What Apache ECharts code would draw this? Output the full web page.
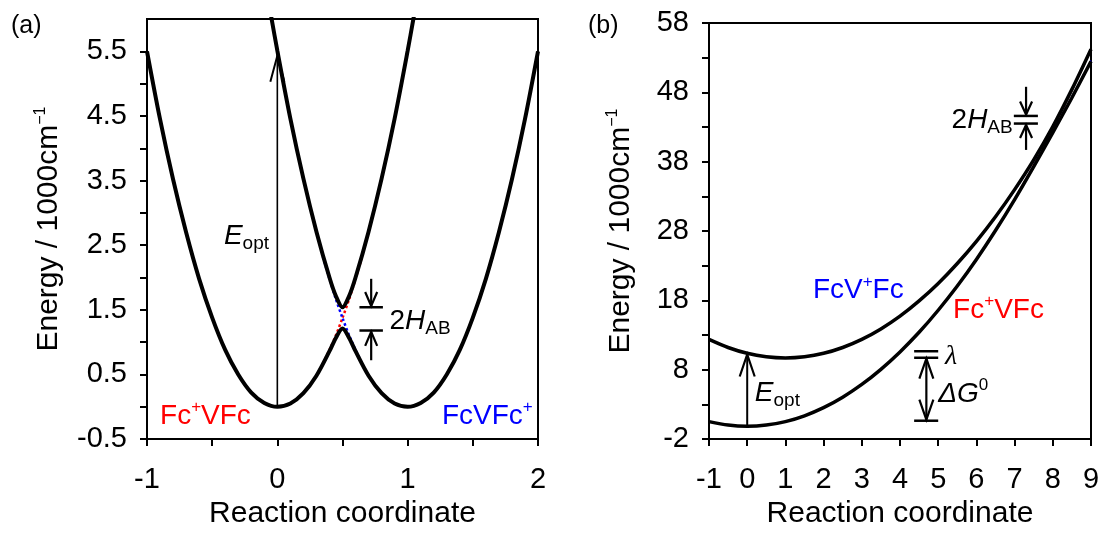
<!DOCTYPE html>
<html>
<head>
<meta charset="utf-8">
<script src="https://cdn.jsdelivr.net/npm/echarts@6/dist/echarts.min.js"></script>
<style>
  html, body { margin: 0; padding: 0; background: #fff; }
  #chart { width: 1107px; height: 534px; }
</style>
</head>
<body>
<div id="chart"></div>
<script>
// ---- panel (a): symmetric exchange, energies in 1000 cm-1 ----
const xLowA = [-1, -0.9, -0.8, -0.7, -0.6, -0.5, -0.4, -0.3, -0.2, -0.1, 0, 0.1, 0.2, 0.3, 0.4, 0.45, 0.5,
               0.55, 0.6, 0.7, 0.8, 0.9, 1, 1.1, 1.2, 1.3, 1.4, 1.5, 1.6, 1.7, 1.8, 1.9, 2];
const lowA = [5.5, 4.45, 3.52, 2.7, 1.98, 1.38, 0.88, 0.5, 0.22, 0.06, 0, 0.05, 0.21, 0.48, 0.86, 1.07, 1.21,
              1.07, 0.86, 0.48, 0.21, 0.05, 0, 0.06, 0.22, 0.5, 0.88, 1.38, 1.98, 2.7, 3.52, 4.45, 5.5];
const xUpA = [-0.05, 0, 0.1, 0.2, 0.3, 0.4, 0.45, 0.5, 0.55, 0.6, 0.7, 0.8, 0.9, 1, 1.05];
const upA = [6.07, 5.51, 4.46, 3.53, 2.71, 2.0, 1.71, 1.54, 1.71, 2.0, 2.71, 3.53, 4.46, 5.51, 6.07];
// dotted diabatic curves, seen only around the crossing
const xCrossA = [0.35, 0.4, 0.45, 0.5, 0.55, 0.6, 0.65];
const redA = [0.67, 0.88, 1.11, 1.375, 1.66, 1.98, 2.32];
const blueA = [2.32, 1.98, 1.66, 1.375, 1.11, 0.88, 0.67];
const yTicksA = [-0.5, 0, 0.5, 1, 1.5, 2, 2.5, 3, 3.5, 4, 4.5, 5, 5.5];
const yLabelsA = [-0.5, 0.5, 1.5, 2.5, 3.5, 4.5, 5.5];
const xTicksA = [-1, -0.5, 0, 0.5, 1, 1.5, 2];
const xLabelsA = [-1, 0, 1, 2];

// ---- panel (b): asymmetric case ----
const xB = [-1, -0.5, 0, 0.5, 1, 1.5, 2, 2.5, 3, 3.5, 4, 4.5, 5, 5.5, 6, 6.5, 7, 7.5, 8, 8.5, 9];
const lowB = [0.52, 0.02, -0.15, 0.02, 0.52, 1.36, 2.53, 4.04, 5.88, 8.06, 10.57, 13.4, 16.58, 20.07,
              23.9, 28.07, 32.54, 37.3, 42.2, 47.22, 52.47];
const upB = [12.38, 11.21, 10.37, 9.87, 9.7, 9.87, 10.37, 11.21, 12.38, 13.89, 15.73, 17.93, 20.44, 23.32,
             26.52, 30.06, 33.97, 38.26, 43.06, 48.43, 54.23];
const xCrossB = [6, 6.5, 7, 7.5, 8, 8.5, 9];
const redB = [23.97, 28.16, 32.68, 37.54, 42.73, 48.26, 54.12];
const blueB = [26.45, 29.97, 33.83, 38.02, 42.53, 47.39, 52.58];
const yTicksB = [-2, 3, 8, 13, 18, 23, 28, 33, 38, 43, 48, 53, 58];
const yLabelsB = [-2, 8, 18, 28, 38, 48, 58];
const xTicksB = [-1, 0, 1, 2, 3, 4, 5, 6, 7, 8, 9];
const xLabelsB = xTicksB;

const FONT = '"Liberation Sans", Arial, sans-serif';
const RED = '#ff0000';
const BLUE = '#0000ff';

function zip(xs, ys) {
  return xs.map((x, i) => [x, ys[i]]);
}

function richFor(color) {
  return {
    n: { fontSize: 28, fontFamily: FONT, fill: color, lineHeight: 34 },
    i: { fontSize: 28, fontFamily: FONT, fontStyle: 'italic', fill: color, lineHeight: 34 },
    g: { fontSize: 28, fontFamily: '"Liberation Serif", serif', fontStyle: 'italic', fill: color, lineHeight: 34 },
    sp: { fontSize: 17, fontFamily: FONT, fill: color, lineHeight: 18, verticalAlign: 'top' },
    sb: { fontSize: 19, fontFamily: FONT, fill: color, lineHeight: 14, verticalAlign: 'bottom' }
  };
}

function seg(p, q, w) {
  return { type: 'line', shape: { x1: p[0], y1: p[1], x2: q[0], y2: q[1] },
           style: { stroke: '#000', lineWidth: w } };
}
// open arrow head, dir 1 = pointing up, -1 = pointing down
function head(t, dir, w, h, lw) {
  return { type: 'polyline',
           shape: { points: [[t[0] - w / 2, t[1] + dir * h], [t[0], t[1]], [t[0] + w / 2, t[1] + dir * h]] },
           style: { stroke: '#000', fill: 'none', lineWidth: lw } };
}
function txt(p, text, align, color) {
  return { type: 'text', x: p[0], y: p[1],
           style: { text: text, align: align, verticalAlign: 'middle', rich: richFor(color || '#000'),
                    fill: color || '#000', fontSize: 28, fontFamily: FONT } };
}

function annotA(params, api) {
  const c = (x, y) => api.coord([x, y]);
  const els = [
    seg(c(0, 0), c(0, 5.43), 1.6),
    head(c(0, 5.43), 1, 14, 26, 2),
    seg(c(0.63, 1.54), c(0.81, 1.54), 2.5),
    seg(c(0.63, 1.18), c(0.81, 1.18), 2.5),
    seg(c(0.72, 1.98), c(0.72, 1.56), 2.2),
    head(c(0.72, 1.56), -1, 12, 14, 2.2),
    seg(c(0.72, 0.72), c(0.72, 1.16), 2.2),
    head(c(0.72, 1.16), 1, 12, 14, 2.2),
    txt(c(-0.41, 2.64), '{i|E}{sb|opt}', 'left'),
    txt(c(0.86, 1.32), '{n|2}{i|H}{sb|AB}', 'left'),
    txt(c(-0.9, -0.14), '{n|Fc}{sp|+}{n|VFc}', 'left', RED),
    txt(c(1.96, -0.14), '{n|FcVFc}{sp|+}', 'right', BLUE)
  ];
  return { type: 'group', children: els };
}

function annotB(params, api) {
  const c = (x, y) => api.coord([x, y]);
  const els = [
    // optical transition
    seg(c(0, -0.15), c(0, 10.2), 2),
    head(c(0, 10.2), 1, 15, 22, 2.2),
    // lambda and dG0 marks
    seg(c(4.37, 10.67), c(5.0, 10.67), 2.5),
    seg(c(4.37, 9.73), c(5.0, 9.73), 2.5),
    seg(c(4.37, 0.65), c(5.0, 0.65), 2.5),
    seg(c(4.69, 9.6), c(4.69, 0.8), 2.2),
    head(c(4.69, 9.6), 1, 14, 20, 2.2),
    head(c(4.69, 0.8), -1, 14, 20, 2.2),
    // 2H_AB mark
    seg(c(6.98, 44.6), c(7.61, 44.6), 2.5),
    seg(c(6.98, 43.5), c(7.61, 43.5), 2.5),
    seg(c(7.3, 48.8), c(7.3, 44.8), 2.2),
    head(c(7.3, 44.8), -1, 12, 13, 2.2),
    seg(c(7.3, 39.7), c(7.3, 43.3), 2.2),
    head(c(7.3, 43.3), 1, 12, 13, 2.2),
    txt(c(0.2, 4.6), '{i|E}{sb|opt}', 'left'),
    txt(c(5.35, 44.0), '{n|2}{i|H}{sb|AB}', 'left'),
    txt(c(5.18, 9.9), '{g|λ}', 'left'),
    txt(c(5.0, 4.5), '{i|ΔG}{sp|0}', 'left'),
    txt(c(1.72, 19.4), '{n|FcV}{sp|+}{n|Fc}', 'left', BLUE),
    txt(c(5.39, 16.6), '{n|Fc}{sp|+}{n|VFc}', 'left', RED)
  ];
  return { type: 'group', children: els };
}

function xAxisOf(gridIndex, min, max, ticks, labels) {
  return {
    type: 'value', gridIndex: gridIndex, min: min, max: max,
    axisLine: { show: true, onZero: false, lineStyle: { color: '#000', width: 2 } },
    axisTick: { show: true, inside: false, length: 7, customValues: ticks, lineStyle: { color: '#000', width: 2 } },
    axisLabel: { customValues: labels, margin: 26, fontSize: 29, color: '#000', fontFamily: FONT },
    splitLine: { show: false },
    name: 'Reaction coordinate', nameLocation: 'middle', nameGap: 59,
    nameTextStyle: { fontSize: 30, color: '#000', fontFamily: FONT }
  };
}

function yAxisOf(gridIndex, min, max, ticks, labels, gap) {
  return {
    type: 'value', gridIndex: gridIndex, min: min, max: max,
    axisLine: { show: true, onZero: false, lineStyle: { color: '#000', width: 2 } },
    axisTick: { show: true, inside: false, length: 7, customValues: ticks, lineStyle: { color: '#000', width: 2 } },
    axisLabel: { customValues: labels, margin: 20, fontSize: 29, color: '#000', fontFamily: FONT },
    splitLine: { show: false },
    name: '{n|Energy / 1000cm}{s|−1}', nameLocation: 'middle', nameGap: gap,
    nameTextStyle: {
      fontSize: 30, color: '#000', fontFamily: FONT,
      rich: {
        n: { fontSize: 30, fontFamily: FONT, color: '#000', lineHeight: 32 },
        s: { fontSize: 16, fontFamily: FONT, color: '#000', lineHeight: 16, verticalAlign: 'top' }
      }
    }
  };
}

function curve(xi, data, width, color, dotted, z) {
  return {
    type: 'line', xAxisIndex: xi, yAxisIndex: xi, data: data,
    symbol: 'none', smooth: 0.3, silent: true, z: z,
    lineStyle: { color: color, width: width, type: dotted ? 'dotted' : 'solid' }
  };
}

const chart = echarts.init(document.getElementById('chart'), null, { renderer: 'canvas' });
chart.setOption({
  animation: false,
  backgroundColor: '#fff',
  grid: [
    { left: 147, top: 19, width: 391, height: 427, show: true, borderColor: '#000', borderWidth: 2 },
    { left: 709, top: 23, width: 382, height: 423, show: true, borderColor: '#000', borderWidth: 2 }
  ],
  xAxis: [
    xAxisOf(0, -1, 2, xTicksA, xLabelsA),
    xAxisOf(1, -1, 9, xTicksB, xLabelsB)
  ],
  yAxis: [
    yAxisOf(0, -0.5, 6, yTicksA, yLabelsA, 82),
    yAxisOf(1, -2, 58, yTicksB, yLabelsB, 72)
  ],
  graphic: [
    { type: 'text', left: 11, top: 14, style: { text: '(a)', fontSize: 25, fontFamily: FONT, fill: '#000' } },
    { type: 'text', left: 588, top: 14, style: { text: '(b)', fontSize: 25, fontFamily: FONT, fill: '#000' } }
  ],
  series: [
    curve(0, zip(xCrossA, redA), 2.5, RED, true, 2),
    curve(0, zip(xCrossA, blueA), 2.5, BLUE, true, 2),
    curve(0, zip(xLowA, lowA), 4, '#000', false, 3),
    curve(0, zip(xUpA, upA), 4, '#000', false, 3),
    { type: 'custom', xAxisIndex: 0, yAxisIndex: 0, data: [[0, 0]], renderItem: annotA, silent: true, z: 5 },

    curve(1, zip(xCrossB, redB), 1.5, RED, true, 2),
    curve(1, zip(xCrossB, blueB), 1.5, BLUE, true, 2),
    curve(1, zip(xB, lowB), 3.5, '#000', false, 3),
    curve(1, zip(xB, upB), 3.5, '#000', false, 3),
    { type: 'custom', xAxisIndex: 1, yAxisIndex: 1, data: [[0, 0]], renderItem: annotB, silent: true, z: 5 }
  ]
});
</script>
</body>
</html>
